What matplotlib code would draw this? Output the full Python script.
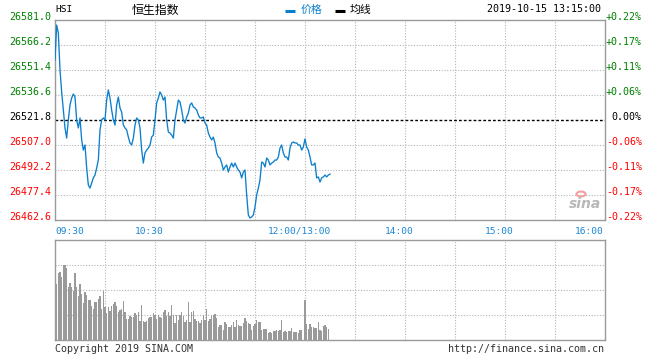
import matplotlib
matplotlib.use("Agg")
import matplotlib.pyplot as plt
import numpy as np
from matplotlib.lines import Line2D
from matplotlib.patches import Circle

# =============================================================================
# data (2019-10-15 up to 13:15)
# =============================================================================
prev_close = 26521.8

# one value per minute from 09:30 (index 0) to 13:15 (12:00 == 13:00 -> index 150)
price = [26557.3, 26578.0, 26573.3, 26551.4, 26538.4, 26527.7, 26517.1, 26511.1, 26521.8, 26530.7,
         26534.8, 26537.2, 26535.4, 26521.8, 26517.1, 26523.0, 26510.0, 26504.0, 26507.0, 26493.4,
         26483.3, 26481.5, 26484.5, 26487.5, 26489.2, 26493.4, 26498.1, 26515.9, 26521.8, 26523.0,
         26521.8, 26533.6, 26539.6, 26534.8, 26527.7, 26521.8, 26518.8, 26530.7, 26535.4, 26528.9,
         26526.5, 26518.8, 26517.1, 26515.9, 26511.7, 26508.2, 26507.0, 26511.1, 26518.8, 26523.0,
         26521.8, 26517.1, 26504.0, 26496.3, 26502.3, 26504.0, 26505.2, 26507.0, 26511.7, 26512.9,
         26521.8, 26531.9, 26534.8, 26538.4, 26536.6, 26533.6, 26535.4, 26521.8, 26514.7, 26514.1,
         26512.9, 26511.1, 26521.8, 26527.7, 26533.6, 26532.5, 26527.7, 26521.8, 26520.0, 26523.6,
         26525.9, 26530.7, 26531.9, 26529.5, 26528.9, 26527.7, 26524.8, 26523.0, 26523.0, 26523.6,
         26520.0, 26518.8, 26514.1, 26511.7, 26510.0, 26511.7, 26508.2, 26502.3, 26499.9, 26499.3,
         26496.3, 26492.2, 26494.0, 26495.2, 26491.0, 26494.0, 26496.3, 26494.0, 26496.3, 26494.0,
         26492.2, 26491.0, 26487.5, 26491.0, 26492.2, 26477.4, 26465.6, 26463.8, 26464.4, 26465.6,
         26470.3, 26477.4, 26481.5, 26486.3, 26496.9, 26496.3, 26494.0, 26499.3, 26498.1, 26495.2,
         26496.3, 26496.9, 26498.1, 26498.1, 26499.9, 26505.2, 26507.0, 26502.3, 26499.9, 26499.9,
         26498.1, 26505.2, 26508.2, 26508.8, 26508.2, 26508.2, 26507.0, 26507.0, 26504.0, 26505.8,
         26510.6, 26505.8, 26504.0, 26499.9, 26495.2, 26495.2, 26496.3, 26487.5, 26488.1, 26485.1,
         26487.5, 26488.1, 26489.2, 26488.1, 26489.2, 26489.8]

# volume, relative units (panel top = 100); morning bars from 09:31, afternoon from 13:00
volume_am = [56, 67, 68, 63, 75, 75, 72, 53, 57, 53, 49, 67, 53, 44, 56, 46, 37, 48, 45, 40,
             40, 34, 31, 38, 38, 41, 44, 31, 49, 33, 27, 33, 29, 34, 36, 38, 34, 28, 30, 31,
             39, 28, 21, 21, 24, 23, 23, 27, 25, 28, 19, 35, 19, 18, 19, 22, 23, 23, 27, 25,
             21, 25, 23, 22, 28, 30, 24, 28, 24, 35, 25, 17, 25, 20, 25, 28, 24, 18, 20, 38,
             18, 28, 29, 21, 19, 19, 17, 20, 25, 20, 31, 19, 21, 24, 25, 26, 22, 13, 15, 15,
             10, 18, 16, 13, 13, 15, 18, 13, 20, 15, 14, 14, 17, 22, 19, 17, 16, 10, 14, 16,
             20, 18, 18, 10, 11, 11, 11, 7, 8, 7, 9, 9, 10, 9, 10, 20, 8, 9, 8, 9,
             9, 12, 8, 8, 8, 7, 10, 10]
volume_pm = [40, 16, 11, 16, 13, 13, 12, 12, 18, 10, 9, 14, 15, 13, 11]

price_ticks = [26581.0, 26566.2, 26551.4, 26536.6, 26521.8, 26507.0, 26492.2, 26477.4, 26462.6]
pct_labels = ["+0.22%", "+0.17%", "+0.11%", "+0.06%", "0.00%", "-0.06%", "-0.11%", "-0.17%", "-0.22%"]
time_ticks = [0, 60, 150, 210, 270, 330]
time_labels = ["09:30", "10:30", "12:00/13:00", "14:00", "15:00", "16:00"]

# =============================================================================
# style
# =============================================================================
MONO = "DejaVu Sans Mono"
CJK = ["Noto Sans CJK SC", "DejaVu Sans"]
LINE_C = "#0a7fcc"
GRID_C = "#b4b4b4"
FRAME_C = "#9a9a9a"
UP_C, DOWN_C = "#008000", "#ff0000"
TIME_C = "#1a86d6"

W, H = 660, 360
fig = plt.figure(figsize=(W / 100, H / 100), dpi=100)
fx = lambda px: px / W
fy = lambda py: 1 - py / H

ax1 = fig.add_axes([fx(55), fy(220), 550 / W, 200 / H])
ax2 = fig.add_axes([fx(55), fy(340), 550 / W, 100 / H])

grid_kw = dict(color=GRID_C, lw=0.8, linestyle=(0, (1, 1.5)), zorder=1)

# ---- price panel
minutes = np.arange(len(price))
ax1.plot(minutes, price, color=LINE_C, lw=0.95, zorder=3)
ax1.set_xlim(0, 330)
ax1.set_ylim(price_ticks[-1], price_ticks[0])
for t in range(30, 330, 30):
    ax1.axvline(t, **grid_kw)
for p in price_ticks[1:-1]:
    if p != prev_close:
        ax1.axhline(p, **grid_kw)
ax1.axhline(prev_close, color="black", lw=1.0, linestyle=(0, (2, 1.5)), zorder=2)

ytr = ax1.get_yaxis_transform()
for p, lab in zip(price_ticks, pct_labels):
    c = UP_C if p > prev_close else (DOWN_C if p < prev_close else "black")
    ax1.text(-0.006, p, "%.1f" % p, transform=ytr, ha="right", va="baseline",
             fontsize=7.2, family=MONO, color=c)
    ax1.text(1.067, p, lab, transform=ytr, ha="right", va="baseline",
             fontsize=7.2, family=MONO, color=c)

xtr = ax1.get_xaxis_transform()
for i, (t, lab) in enumerate(zip(time_ticks, time_labels)):
    if i == 0:
        ha, dx = "left", 0
    elif i == len(time_ticks) - 1:
        ha, dx = "right", -1
    else:
        ha, dx = "center", -4.3
    ax1.annotate(lab, (t, 0), xycoords=xtr, xytext=(dx, -8), textcoords="offset points",
                 ha=ha, va="center", fontsize=6.8, family=MONO, color=TIME_C)

# ---- volume panel
ax2.bar(np.arange(1, 1 + len(volume_am)), volume_am, width=0.65, color="#9a9a9a", lw=0, zorder=3)
ax2.bar(np.arange(150, 150 + len(volume_pm)), volume_pm, width=0.65, color="#9a9a9a", lw=0, zorder=3)
ax2.set_xlim(0, 330)
ax2.set_ylim(0, 100)
for t in range(30, 330, 30):
    ax2.axvline(t, **grid_kw)
for v in (25, 50, 75):
    ax2.axhline(v, **grid_kw)

for ax in (ax1, ax2):
    ax.set_xticks([])
    ax.set_yticks([])
    for s in ax.spines.values():
        s.set_color(FRAME_C)
        s.set_linewidth(1.0)

# ---- header
fig.text(fx(55), fy(10), "HSI", ha="left", va="center", fontsize=6.8, family=MONO)
fig.text(fx(155), fy(10), "恒生指数", ha="center", va="center", fontsize=8.6, family=CJK)
fig.add_artist(Line2D([fx(285), fx(295)], [fy(11), fy(11)], color=LINE_C, lw=2.2,
                      solid_capstyle="butt", transform=fig.transFigure))
fig.text(fx(301), fy(10), "价格", ha="left", va="center", fontsize=7.8, family=CJK, color=LINE_C)
fig.add_artist(Line2D([fx(335), fx(345)], [fy(11), fy(11)], color="black", lw=2.2,
                      solid_capstyle="butt", transform=fig.transFigure))
fig.text(fx(350), fy(10), "均线", ha="left", va="center", fontsize=7.8, family=CJK)
fig.text(fx(601), fy(9.5), "2019-10-15 13:15:00", ha="right", va="center", fontsize=7.2, family=MONO)

# ---- footer
fig.text(fx(55), fy(349), "Copyright 2019 SINA.COM", ha="left", va="center",
         fontsize=7.2, family=MONO, color="#333333")
fig.text(fx(604), fy(349), "http://finance.sina.com.cn", ha="right", va="center",
         fontsize=7.2, family=MONO, color="#333333")

# ---- sina watermark
fig.add_artist(Circle((fx(581), fy(194)), 4.5 / W, transform=fig.transFigure,
                      facecolor="none", edgecolor="#f2a0a0", lw=1.5))
fig.text(fx(585), fy(204), "sina", ha="center", va="center", fontsize=10, style="italic",
         weight="bold", color="#b8b8b8")

fig.savefig("out.png", dpi=100)
